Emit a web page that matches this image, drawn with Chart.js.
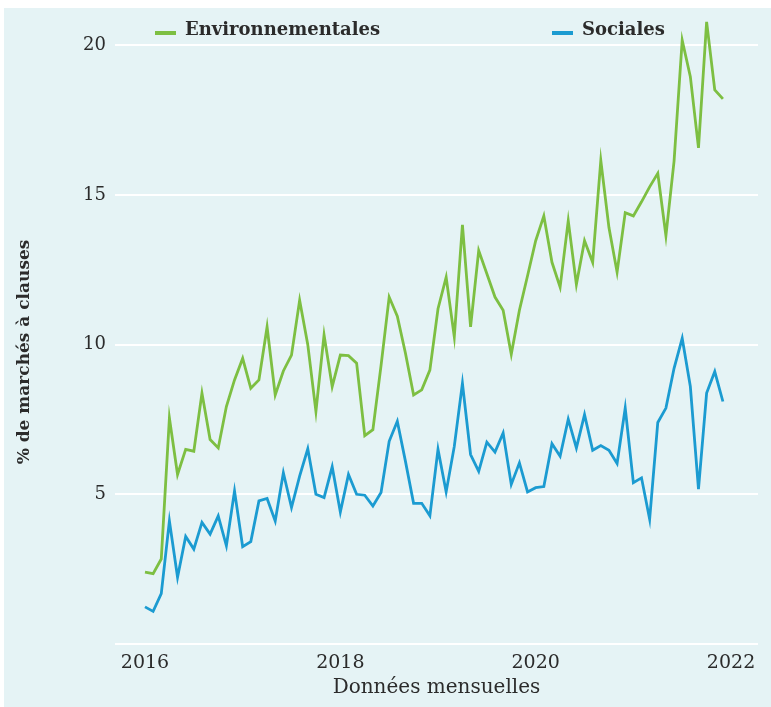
<!DOCTYPE html>
<html lang="fr">
<head>
<meta charset="UTF-8">
<title>Part des marchés à clauses environnementales et sociales</title>
<script src="https://cdn.jsdelivr.net/npm/chart.js"></script>
<style>
  html, body { margin: 0; padding: 0; background: #fff; }
</style>
</head>
<body>

<canvas id="clauses-chart" width="771" height="707"></canvas>

<script>
// Données mensuelles, janvier 2016 -> décembre 2021
var annees = [2016, 2017, 2018, 2019, 2020, 2021];

var environnementales = [
    2.40, 2.35, 2.84, 7.55, 5.66, 6.50, 6.44, 8.38, 6.83, 6.55, 7.93, 8.82,
    9.54, 8.54, 8.82, 10.59, 8.32, 9.12, 9.65, 11.48, 10.00, 7.77, 10.32, 8.60,
    9.65, 9.63, 9.38, 6.96, 7.16, 9.30, 11.59, 10.95, 9.71, 8.32, 8.49, 9.15,
    11.20, 12.25, 10.26, 14.00, 10.59, 13.14, 12.37, 11.59, 11.15, 9.68, 11.15, 12.30,
    13.47, 14.30, 12.75, 11.92, 14.14, 12.01, 13.47, 12.75, 16.15, 13.91, 12.42, 14.41,
    14.30, 14.77, 15.27, 15.72, 13.64, 16.13, 20.17, 18.95, 16.57, 20.78, 18.51, 18.21
];

var sociales = [
    1.24, 1.09, 1.68, 4.11, 2.23, 3.59, 3.17, 4.06, 3.67, 4.28, 3.28, 5.11,
    3.25, 3.42, 4.78, 4.86, 4.11, 5.72, 4.56, 5.61, 6.52, 5.00, 4.89, 5.92,
    4.41, 5.66, 5.00, 4.97, 4.61, 5.06, 6.77, 7.44, 6.10, 4.70, 4.70, 4.28,
    6.50, 5.08, 6.60, 8.71, 6.33, 5.77, 6.74, 6.41, 7.05, 5.33, 6.05, 5.08,
    5.22, 5.26, 6.69, 6.27, 7.51, 6.55, 7.66, 6.47, 6.63, 6.47, 6.03, 7.88,
    5.39, 5.55, 4.17, 7.40, 7.88, 9.21, 10.21, 8.60, 5.17, 8.38, 9.10, 8.10
];

var anneesAxe = [2016, 2018, 2020, 2022];
var graduationsY = [0, 5, 10, 15, 20];

var vert = '#7dbf42';
var bleu = '#1b9bd1';
var fond = '#e5f3f5';
var texte = '#2b2b2b';
var police = "'DejaVu Serif', serif";
var titreY = '% de marchés à clauses';

// chaque mois en année décimale
var mois = [];
annees.forEach(function(a) {
    for (var m = 0; m < 12; m++) mois.push(a + m / 12);
});

function points(valeurs) {
    return valeurs.map(function(v, i) { return { x: mois[i], y: v }; });
}

// fond bleu clair avec petite marge blanche en haut et à gauche
var fondPlugin = {
    id: 'fond',
    beforeDraw: function(chart) {
        var ctx = chart.ctx;
        ctx.save();
        ctx.fillStyle = '#ffffff';
        ctx.fillRect(0, 0, chart.width, chart.height);
        ctx.fillStyle = fond;
        ctx.fillRect(4, 8, chart.width - 4, chart.height - 8);
        ctx.restore();
    }
};

// légende très espacée + titre vertical un peu décentré, comme l'original
var textesPlugin = {
    id: 'textes',
    afterDraw: function(chart) {
        var ctx = chart.ctx;
        var items = [
            { label: chart.data.datasets[0].label, couleur: vert, x: 155 },
            { label: chart.data.datasets[1].label, couleur: bleu, x: 552 }
        ];
        ctx.save();
        ctx.font = 'bold 18px ' + police;
        ctx.textBaseline = 'middle';
        items.forEach(function(it) {
            ctx.strokeStyle = it.couleur;
            ctx.lineWidth = 4;
            ctx.beginPath();
            ctx.moveTo(it.x, 33);
            ctx.lineTo(it.x + 21, 33);
            ctx.stroke();
            ctx.fillStyle = texte;
            ctx.fillText(it.label, it.x + 30, 30);
        });

        ctx.translate(25, 352);
        ctx.rotate(-Math.PI / 2);
        ctx.textAlign = 'center';
        ctx.font = 'bold 17px ' + police;
        ctx.fillText(titreY, 0, 0);
        ctx.restore();
    }
};

var ctx = document.getElementById('clauses-chart').getContext('2d');
var chart = new Chart(ctx, {
    type: 'line',
    data: {
        datasets: [{
            label: 'Environnementales',
            data: points(environnementales),
            borderColor: vert,
            borderWidth: 2.8,
            pointRadius: 0,
            tension: 0,
            fill: false
        }, {
            label: 'Sociales',
            data: points(sociales),
            borderColor: bleu,
            borderWidth: 2.8,
            pointRadius: 0,
            tension: 0,
            fill: false
        }]
    },
    options: {
        responsive: false,
        animation: false,
        layout: { padding: { left: 5, right: 13, top: 7, bottom: 0 } },
        plugins: {
            legend: { display: false },
            tooltip: { enabled: false }
        },
        scales: {
            x: {
                type: 'linear',
                min: 2015.693,
                max: 2022.276,
                afterBuildTicks: function(scale) {
                    scale.ticks = anneesAxe.map(function(v) { return { value: v }; });
                },
                afterFit: function(scale) { scale.height = 63; },
                grid: { display: false },
                border: { display: false },
                ticks: {
                    padding: 0,
                    color: texte,
                    font: { family: police, size: 19 },
                    callback: function(v) { return String(v); }
                },
                title: {
                    display: true,
                    text: 'Données mensuelles',
                    color: texte,
                    font: { family: police, size: 20 },
                    padding: { top: 0, bottom: 7 }
                }
            },
            y: {
                min: 0,
                max: 20.85,
                afterBuildTicks: function(scale) {
                    scale.ticks = graduationsY.map(function(v) { return { value: v }; });
                },
                afterFit: function(scale) { scale.width = 110; },
                grid: { color: '#ffffff', lineWidth: 2, drawTicks: false },
                border: { display: false },
                ticks: {
                    padding: 9,
                    color: texte,
                    font: { family: police, size: 18 },
                    callback: function(v) { return v === 0 ? '' : String(v); }
                },
                title: { display: false, text: titreY }
            }
        }
    },
    plugins: [fondPlugin, textesPlugin]
});
</script>

</body>
</html>
